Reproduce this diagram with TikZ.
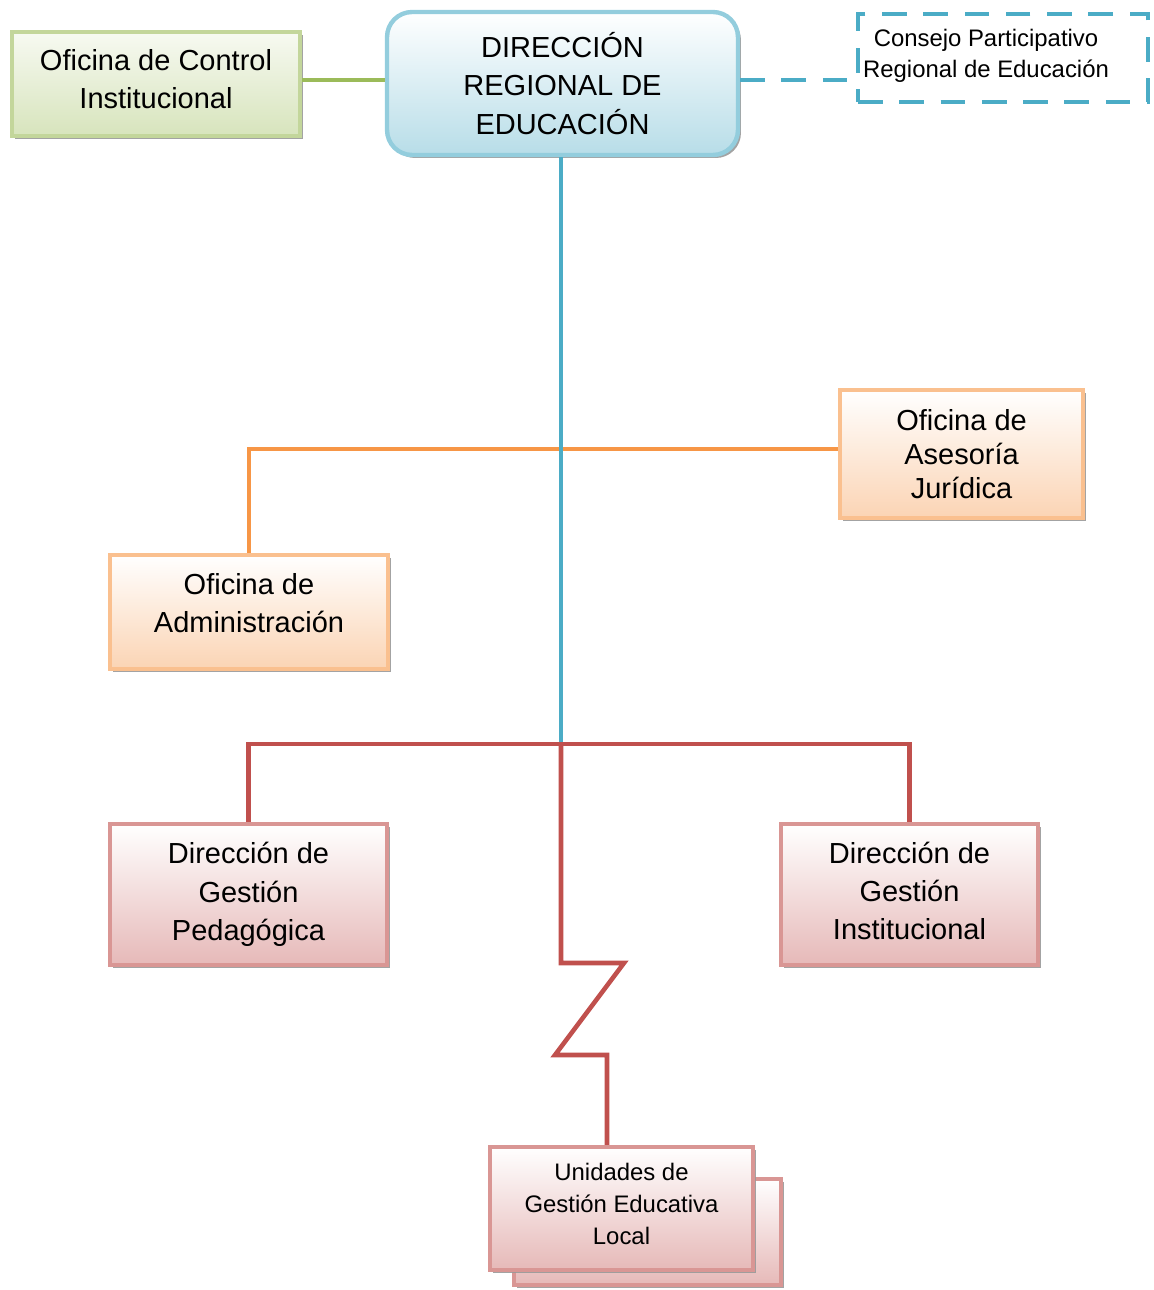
\documentclass[tikz,border=0pt]{standalone}
\usepackage{fontspec}
\setmainfont{Liberation Sans}
\usetikzlibrary{shadows}

\definecolor{greenedge}{HTML}{C3D69B}
\definecolor{greenfill}{HTML}{D7E4BC}
\definecolor{greenline}{HTML}{9BBB59}
\definecolor{blueedge}{HTML}{93CDDD}
\definecolor{bluefill}{HTML}{B7DDE8}
\definecolor{blueline}{HTML}{4BACC6}
\definecolor{orangeedge}{HTML}{FAC08F}
\definecolor{orangefill}{HTML}{FBD4B4}
\definecolor{orangeline}{HTML}{F79646}
\definecolor{rededge}{HTML}{D99694}
\definecolor{redfill}{HTML}{E6B9B8}
\definecolor{redline}{HTML}{C0504D}

\tikzset{
  box/.style={draw, line width=2.5pt, align=center, inner sep=2pt,
    font=\fontsize{16.5}{21.8}\selectfont,
    drop shadow={shadow xshift=0.06cm,shadow yshift=-0.06cm,fill=black!40,opacity=0.9}},
  greenbox/.style={box, draw=greenedge, top color=greenfill!20, bottom color=greenfill},
  bluebox/.style={box, draw=blueedge, rounded corners=0.5cm, top color=white, bottom color=bluefill},
  orangebox/.style={box, draw=orangeedge, top color=white, bottom color=orangefill},
  redbox/.style={box, draw=rededge, top color=white, bottom color=redfill},
  conn/.style={line width=2.6pt},
  dashed line/.style={dash pattern=on 14pt off 9.5pt},
  dashbox/.style={draw=blueline, line width=2.3pt, dashed line}
}

\begin{document}
\begin{tikzpicture}[x=0.02cm,y=-0.02cm]
  \useasboundingbox (0,0) rectangle (1153,1290);

  % top row
  \node[bluebox, minimum width=7.02cm, minimum height=2.86cm] (dre) at (562.5,83.5)
    {DIRECCIÓN\\REGIONAL DE\\EDUCACIÓN};
  \node[greenbox, minimum width=5.76cm, minimum height=2.08cm, text depth=5.6pt] (ctl) at (156,84)
    {Oficina de Control\\Institucional};
  \node[dashbox, minimum width=5.8cm, minimum height=1.76cm,
    label={[xshift=-0.34cm, yshift=0.04cm, align=center, font=\fontsize{13.6}{17.6}\selectfont]center:Consejo Participativo\\Regional de Educación}]
    (copare) at (1003,58) {};

  % offices
  \node[orangebox, minimum width=4.86cm, minimum height=2.56cm,
    font=\fontsize{16.5}{19.5}\selectfont] (asesoria) at (961.5,454)
    {Oficina de\\Asesoría\\Jurídica};
  \node[orangebox, minimum width=5.56cm, minimum height=2.28cm, text depth=10.2pt] (admin) at (249,612)
    {Oficina de\\Administración};

  % directions
  \node[redbox, minimum width=5.54cm, minimum height=2.82cm] (dgp) at (248.5,894.5)
    {Dirección de\\Gestión\\Pedagógica};
  \node[redbox, minimum width=5.14cm, minimum height=2.82cm, text depth=4pt] (dgi) at (909.5,894.5)
    {Dirección de\\Gestión\\Institucional};

  % ugel (stacked)
  \node[redbox, minimum width=5.34cm, minimum height=2.12cm] (ugelback) at (647.5,1232) {};
  \node[redbox, minimum width=5.26cm, minimum height=2.46cm, text depth=5.6pt,
    font=\fontsize{13.6}{18.1}\selectfont] (ugel) at (621.5,1208.5)
    {Unidades de\\Gestión Educativa\\Local};

  \coordinate (toplevel) at (0,80);
  \coordinate (oj) at (561,449);
  \coordinate (rj) at (561,744);
  \coordinate (z1) at (624,963);
  \coordinate (z2) at (555,1055);
  \coordinate (z3) at (607,0);

  % connectors
  \draw[conn, greenline] (ctl.east |- toplevel) -- (dre.west |- toplevel);
  \draw[conn, blueline, dashed line] (dre.east |- toplevel) -- (copare.west |- toplevel);
  \draw[conn, orangeline] (asesoria.west |- oj) -| (admin.north);
  \draw[conn, blueline] (dre.south -| rj) -- (rj);
  \draw[conn, redline] (dgp.north) |- (rj) -| (dgi.north);
  \draw[conn, redline, line join=miter] (rj) |- (z1) -- (z2) -| (ugel.north -| z3);
\end{tikzpicture}
\end{document}
